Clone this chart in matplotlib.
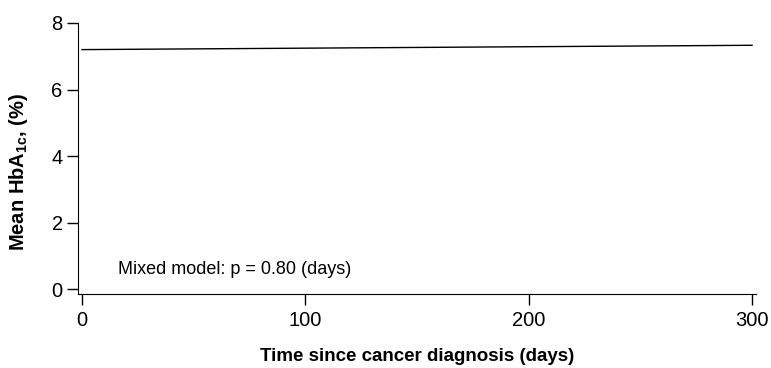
import numpy as np
import matplotlib
matplotlib.use("Agg")
from matplotlib import pyplot as plt

plt.rcParams['font.family'] = ['Liberation Sans', 'DejaVu Sans']
plt.rcParams['mathtext.fontset'] = 'custom'
plt.rcParams['mathtext.rm'] = 'Liberation Sans'
plt.rcParams['mathtext.bf'] = 'Liberation Sans:bold'

# Fitted mixed model line
days = [0, 300]
meanHbA1c = [7.20, 7.33]

xTicks = [0, 100, 200, 300]
yTicks = [0, 2, 4, 6, 8]

fig = plt.figure(figsize=(7.71, 3.68), dpi=100)
ax = fig.add_axes([0.1012, 0.201, 0.8794, 0.7365])

ax.plot(days, meanHbA1c, color="black", linewidth=1)
ax.set_xlim(-1.8, 301.8)
ax.set_ylim(-0.15, 8)

ax.set_xticks(xTicks)
ax.set_yticks(yTicks)
ax.spines["top"].set_visible(False)
ax.spines["right"].set_visible(False)
ax.tick_params(axis="both", labelsize=14.5, length=8, width=1)
ax.tick_params(axis="x", pad=4)
ax.tick_params(axis="y", pad=3)

ax.text(16, 0.45, "Mixed model: p = 0.80 (days)", fontsize=13, va="baseline")

ax.set_xlabel("Time since cancer diagnosis (days)", fontsize=13.5, fontweight="bold", labelpad=13)
ax.set_ylabel(r"Mean HbA$_\mathbf{1c}$, (%)", fontsize=14.5, fontweight="bold")
ax.yaxis.set_label_coords(-0.071, 0.45)

fig.savefig("out.png", dpi=100)
